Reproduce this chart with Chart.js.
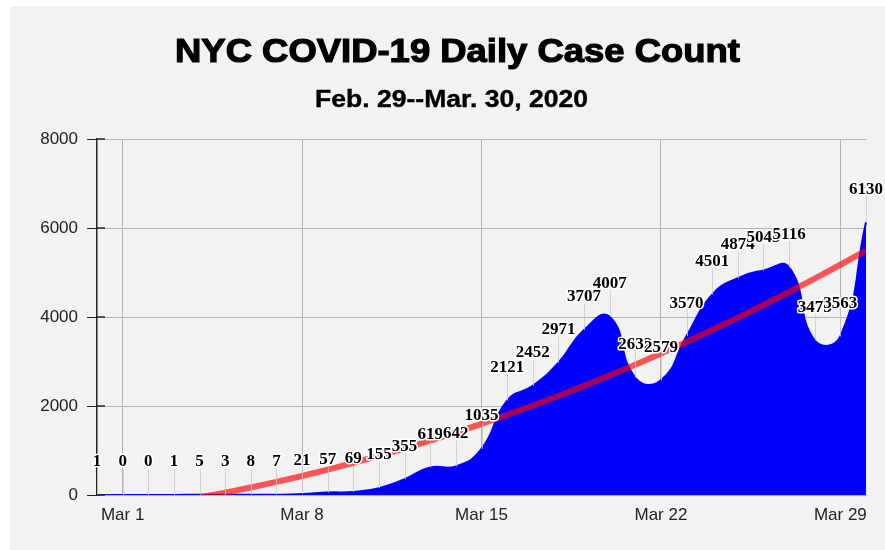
<!DOCTYPE html>
<html>
<head>
<meta charset="utf-8">
<script src="https://cdn.jsdelivr.net/npm/chart.js@4"></script>
<style>
  body { margin:0; background:#fff; }
  #box { position:absolute; left:10px; top:6px; width:875px; height:544px; background:#f2f2f2; }
</style>
</head>
<body>
<div id="box"><canvas id="Grafico" width="875" height="544"></canvas></div>
<script>
var dias = ["Feb 29","Mar 1","Mar 2","Mar 3","Mar 4","Mar 5","Mar 6","Mar 7","Mar 8","Mar 9","Mar 10",
  "Mar 11","Mar 12","Mar 13","Mar 14","Mar 15","Mar 16","Mar 17","Mar 18","Mar 19","Mar 20",
  "Mar 21","Mar 22","Mar 23","Mar 24","Mar 25","Mar 26","Mar 27","Mar 28","Mar 29","Mar 30"];
var casos = [1,0,0,1,5,3,8,7,21,57,69,155,355,619,642,1035,2121,2452,2971,3707,4007,
  2632,2579,3570,4501,4874,5045,5116,3473,3563,6130];
// linha de tendencia (abaixo de zero fica fora da area)
var tendencia = [null,null,null,null,-56,52,169,294,428,570,720,879,1046,1222,1406,1598,1799,2008,
  2226,2452,2686,2929,3180,3440,3708,3984,4269,4562,4864,5174,5492];
var marcasY = [0,2000,4000,6000,8000];
var diasMarcados = [1,8,15,22,29];
var titulo = 'NYC COVID-19 Daily Case Count';
var subtitulo = 'Feb. 29--Mar. 30, 2020';

function textoEsticado(ctx, t, x, y, larg, traco){
  var w = ctx.measureText(t).width;
  ctx.save();
  ctx.translate(x, y);
  ctx.scale(larg / w, 1);
  if(traco){
    ctx.lineWidth = traco;
    ctx.strokeText(t, 0, 0);
  }
  ctx.fillText(t, 0, 0);
  ctx.restore();
}

var rotulos = {
  id:'rotulos',
  afterDatasetsDraw: function(chart){
    var ctx = chart.ctx;
    var meta = chart.getDatasetMeta(1);
    ctx.save();
    ctx.strokeStyle = 'rgba(200,200,200,0.8)';
    ctx.lineWidth = 1;
    meta.data.forEach(function(p){
      ctx.beginPath();
      ctx.moveTo(Math.round(p.x)+0.5, p.y);
      ctx.lineTo(Math.round(p.x)+0.5, p.y-26);
      ctx.stroke();
    });
    ctx.font = 'bold 17px "Liberation Serif"';
    ctx.textAlign = 'center';
    ctx.textBaseline = 'middle';
    ctx.lineJoin = 'round';
    meta.data.forEach(function(p,i){
      var t = String(casos[i]);
      ctx.strokeStyle = '#fff';
      ctx.lineWidth = 3;
      ctx.strokeText(t, p.x, p.y-33);
      ctx.fillStyle = '#000';
      ctx.fillText(t, p.x, p.y-33);
    });
    ctx.restore();
  },
  afterDraw: function(chart){
    var ctx = chart.ctx, y = chart.scales.y, a = chart.chartArea;
    ctx.save();
    ctx.strokeStyle = '#222';
    ctx.lineWidth = 1.5;
    marcasY.forEach(function(v){
      var py = y.getPixelForValue(v);
      ctx.beginPath();
      ctx.moveTo(a.left, py);
      ctx.lineTo(a.left+8, py);
      ctx.stroke();
    });
    // titulos
    ctx.fillStyle = '#000';
    ctx.strokeStyle = '#000';
    ctx.textAlign = 'center';
    ctx.textBaseline = 'alphabetic';
    ctx.font = 'bold 34px "Liberation Sans"';
    textoEsticado(ctx, titulo, 447.5, 56, 565, 1.2);
    ctx.font = 'bold 24px "Liberation Sans"';
    textoEsticado(ctx, subtitulo, 441.5, 101, 273, 0.4);
    ctx.restore();
  }
};

var options = {
  responsive:false,
  animation:false,
  layout:{ padding:{ left:0, right:19, top:133, bottom:0 } },
  plugins:{
    legend:{ display:false },
    tooltip:{ enabled:false }
  },
  scales:{
    x:{
      afterFit:function(s){ s.height = 55; },
      grid:{
        drawTicks:false,
        color:function(c){ return diasMarcados.indexOf(c.index) >= 0 ? '#b4b4b4' : 'rgba(0,0,0,0)'; }
      },
      border:{ color:'#b4b4b4' },
      ticks:{
        autoSkip:false, maxRotation:0, padding:10, color:'#222',
        font:{ family:'"Liberation Sans", Arial', size:17 },
        callback:function(v,i){ return diasMarcados.indexOf(i) >= 0 ? dias[i] : ''; }
      }
    },
    y:{
      min:0, max:8000,
      afterFit:function(s){ s.width = 87; },
      grid:{ color:'#b4b4b4', tickColor:'#222', tickLength:10 },
      border:{ color:'#222', width:1.5 },
      ticks:{
        stepSize:2000, padding:9, color:'#222',
        font:{ family:'"Liberation Sans", Arial', size:17 },
        callback:function(v){ return String(v); }
      }
    }
  }
};

new Chart(document.getElementById('Grafico').getContext('2d'), {
  type:'line',
  data:{
    labels:dias,
    datasets:[{
      label:'Tendencia',
      data:tendencia,
      borderColor:'rgba(255,0,0,0.65)',
      borderWidth:6,
      pointRadius:0,
      tension:0,
      fill:false,
      clip:0,
      order:0
    },{
      label:'Casos',
      data:casos,
      borderColor:'#0000ff',
      backgroundColor:'#0000ff',
      borderWidth:2,
      pointRadius:0,
      tension:0.5,
      fill:'origin',
      order:1
    }]
  },
  options:options,
  plugins:[rotulos]
});
</script>
</body>
</html>
